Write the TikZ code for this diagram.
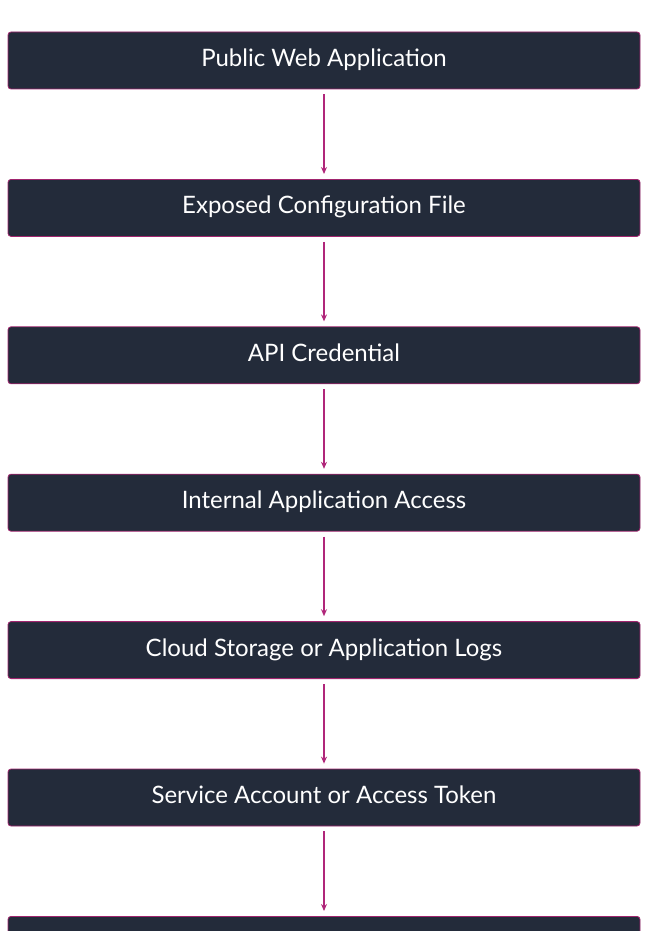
\documentclass[tikz,border=0pt]{standalone}
\usepackage{fontspec}
\setmainfont{Lato}
\usetikzlibrary{positioning,arrows.meta}
\definecolor{boxfill}{HTML}{232B3A}
\definecolor{boxline}{HTML}{A0256E}
\definecolor{arrowcol}{HTML}{B0267A}
\begin{document}
\begin{tikzpicture}[x=1pt,y=1pt,
  stage/.style={draw=boxline,fill=boxfill,rounded corners=3pt,line width=0.8pt,
    minimum width=632pt,minimum height=57pt,text height=17pt,text depth=5pt,
    inner sep=0pt,anchor=center,text=white,
    font=\fontsize{24}{28}\selectfont},
  flow/.style={draw=arrowcol,line width=1.5pt,-{Stealth[length=7pt,width=6pt]},
    shorten <=5pt,shorten >=5pt}]
  \useasboundingbox (0,0) rectangle (656,-931);
  \node[stage] (web) at (324,-60.5) {Public Web Application};
  \node[stage,below=118.5pt of web.center] (config) {Exposed Configuration File};
  \node[stage,below=118.5pt of config.center] (cred) {API Credential};
  \node[stage,below=118.5pt of cred.center] (internal) {Internal Application Access};
  \node[stage,below=118.5pt of internal.center] (logs) {Cloud Storage or Application Logs};
  \node[stage,below=118.5pt of logs.center] (token) {Service Account or Access Token};
  \node[stage,below=118.5pt of token.center] (escal) {Privilege Escalation};
  \node[stage,below=118.5pt of escal.center] (admin) {Administrative Access};
  \foreach \a/\b in {web/config,config/cred,cred/internal,internal/logs,
    logs/token,token/escal,escal/admin}
    \draw[flow] (\a) -- (\b);
\end{tikzpicture}
\end{document}
